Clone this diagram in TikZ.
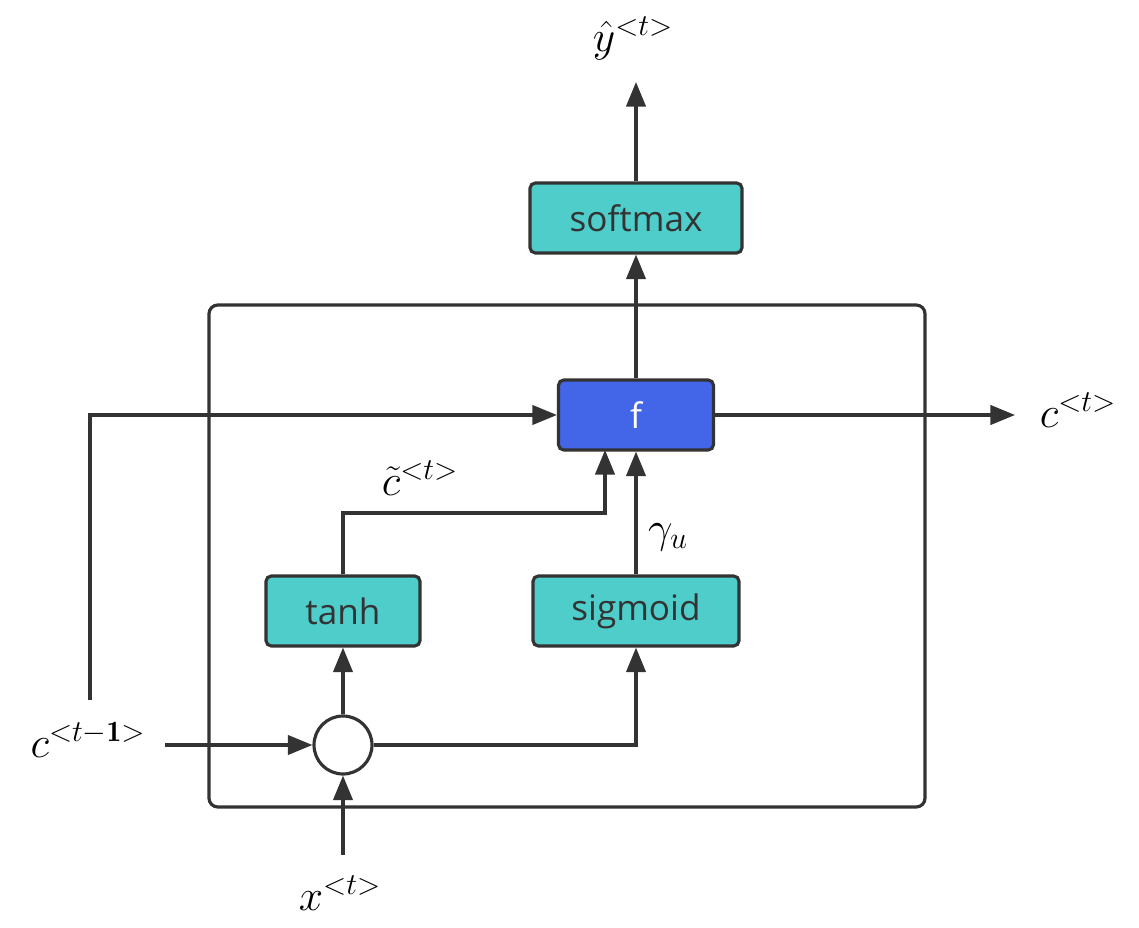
\documentclass[tikz,border=0pt]{standalone}
\usepackage{fontspec}
\setsansfont{Open Sans}
\usepackage{amsmath}
\usetikzlibrary{arrows.meta}
\definecolor{teal1}{HTML}{4ECDCB}
\definecolor{blu}{HTML}{4366E8}
\definecolor{dk}{HTML}{333333}
\begin{document}
\begin{tikzpicture}[x=0.02cm,y=-0.02cm,
  box/.style={draw=dk,line width=1.8pt,rounded corners=3pt,fill=teal1,font=\sffamily\fontsize{20}{24}\selectfont,text=dk},
  ar/.style={draw=dk,line width=1.8pt,-{Triangle[length=14pt,width=11pt]}},
  lab/.style={font=\fontsize{24}{28}\selectfont,inner sep=0pt}]
\useasboundingbox (0,0) rectangle (1139,928);
\draw[line width=1.8pt,draw=dk,rounded corners=5pt] (209,305) rectangle (925,807);
\node[box,minimum width=4.24cm,minimum height=1.4cm] (sm) at (636,218) {softmax};
\node[box,fill=blu,text=white,minimum width=3.1cm,minimum height=1.4cm] (f) at (636,415) {f};
\node[box,minimum width=3.08cm,minimum height=1.4cm] (th) at (343,611) {tanh};
\node[box,minimum width=4.12cm,minimum height=1.4cm] (sg) at (636,611) {sigmoid};
\node[draw=dk,line width=1.8pt,circle,minimum size=1.16cm,fill=white] (c) at (343,745) {};
\node[lab] (yh) at (633,38) {$\hat{y}^{<t>}$};
\node[lab] (ct) at (1078,410) {$c^{<t>}$};
\node[lab] (ctm) at (88,740) {$c^{<t-\mathbf{1}>}$};
\node[lab] (xt) at (340,893) {$x^{<t>}$};
\node[lab] at (420,478) {$\tilde{c}^{<t>}$};
\node[lab] at (668,537) {$\gamma_u$};
\coordinate (ytip) at (636,82);
\coordinate (ctip) at (1015,415);
\coordinate (cstart) at (90,700);
\coordinate (xstart) at (343,855);
\coordinate (cin) at (165,745);
\draw[ar] (sm.north) -- (ytip);
\draw[ar] (f.north) -- (sm.south);
\draw[ar] (f.east) -- (ctip);
\draw[ar] (cstart) |- (f.west);
\draw[ar] (cin) -- (c.west);
\draw[ar] (xstart) -- (c.south);
\draw[ar] (c.north) -- (th.south);
\draw[ar] (c.east) -| (sg.south);
\draw[ar] (th.north) |- (605,513) -- (605,450);
\draw[ar] (sg.north) -- (f.south);
\end{tikzpicture}
\end{document}
